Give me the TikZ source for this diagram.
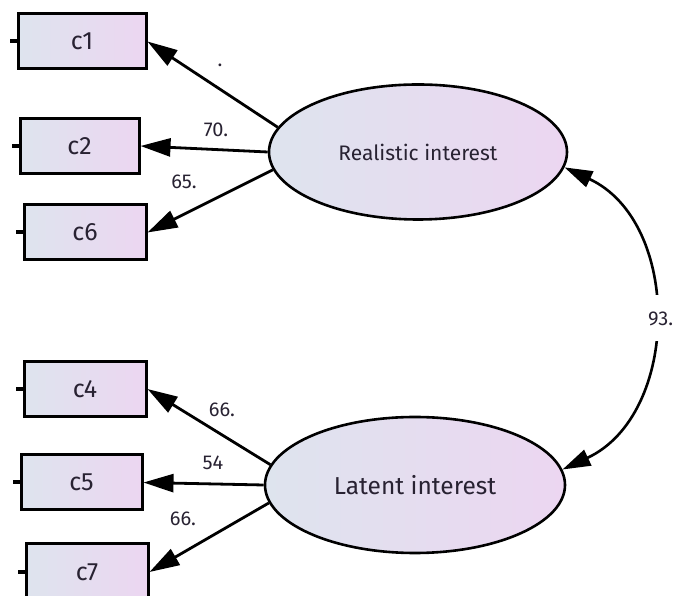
\documentclass[tikz,border=0pt]{standalone}
\usepackage{fontspec}
\setmainfont{Fira Sans}
\usetikzlibrary{arrows.meta,shapes.geometric}
\definecolor{boxleft}{RGB}{222,228,238}
\definecolor{boxright}{RGB}{236,214,241}
\definecolor{ink}{RGB}{40,34,50}
\begin{document}
\begin{tikzpicture}[x=1pt,y=1pt,
		obs/.style={draw=black,line width=3pt,left color=boxleft,right color=boxright,
			minimum width=122pt,minimum height=55pt,inner sep=0pt,text=ink,font=\fontsize{25}{25}\selectfont},
		lat/.style={ellipse,draw=black,line width=2.6pt,left color=boxleft,right color=boxright,
			minimum width=298pt,minimum height=135pt,inner sep=0pt,text=ink},
		load/.style={line width=2.8pt,-{Triangle[length=30pt,width=18pt]}},
		stub/.style={line width=4pt},
		wt/.style={text=ink,font=\fontsize{20}{20}\selectfont,inner sep=1pt}]
	\useasboundingbox (0,0) rectangle (687,596);

	% observed variables
	\node[obs,minimum width=128pt] (c1) at (82,554.5) {c1};
	\node[obs,minimum width=119pt] (c2) at (79.5,450) {c2};
	\node[obs] (c6) at (85,363.5) {c6};
	\node[obs] (c4) at (85,207) {c4};
	\node[obs,minimum width=121pt] (c5) at (81.5,113.5) {c5};
	\node[obs,minimum height=56pt] (c7) at (87,24) {c7};

	% latent variables
	\node[lat,font=\fontsize{21}{21}\selectfont] (real) at (418,444) {Realistic interest};
	\node[lat,minimum width=300pt,minimum height=136pt,font=\fontsize{24.5}{24.5}\selectfont] (lat) at (415,111) {Latent interest};

	\foreach \c in {c1,c2,c6,c4,c5,c7}
		\draw[stub] (\c.west) -- +(-7,0);

	\draw[load] (real.170) -- (c1.east);
	\draw[load] (real.180) -- (c2.east);
	\draw[load] (real.187) -- (c6.east);
	\draw[load] (lat.172) -- (c4.east);
	\draw[load] (lat.180) -- (c5.east);
	\draw[load] (lat.187) -- (c7.east);

	\node[wt] (w1) at (220,531) {.};
	\node[wt] (w2) at (216,466) {70.};
	\node[wt] (w6) at (184,414) {65.};
	\node[wt] (w4) at (222,186) {66.};
	\node[wt] (w5) at (213,133) {54};
	\node[wt] (w7) at (183,77) {66.};

	% correlation
	\draw[line width=2.6pt,{Triangle[length=28pt,width=17pt]}-{Triangle[length=28pt,width=17pt]}]
		(real.-6) to[out=-25,in=25,looseness=1.1]
		node[wt,fill=white,anchor=west,xshift=-6pt,minimum height=46pt] (r) {93.} (lat.6);
\end{tikzpicture}
\end{document}
